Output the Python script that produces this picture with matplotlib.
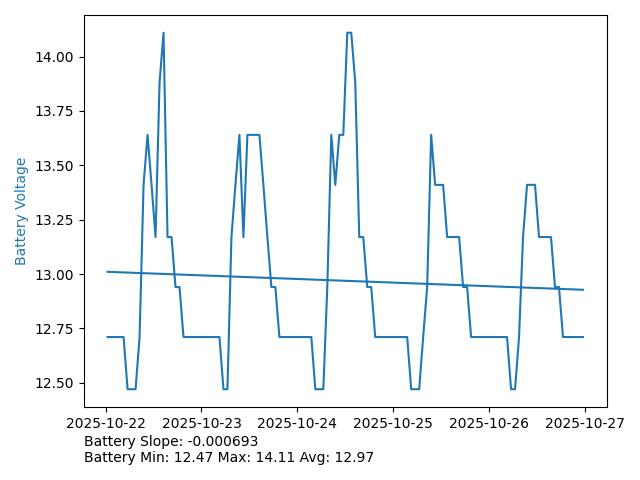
import numpy as np
import pandas as pd
import matplotlib
matplotlib.use('Agg')
import matplotlib.pyplot as plt

# hourly battery readings, first one at 2025-10-22 00:30
start = '2025-10-22 00:30'
voltage = [
	12.71, 12.71, 12.71, 12.71, 12.71, 12.47, 12.47, 12.47, 12.71, 13.41,
	13.64, 13.41, 13.17, 13.88, 14.11, 13.17, 13.17, 12.94, 12.94, 12.71,
	12.71, 12.71, 12.71, 12.71, 12.71, 12.71, 12.71, 12.71, 12.71, 12.47,
	12.47, 13.17, 13.41, 13.64, 13.17, 13.64, 13.64, 13.64, 13.64, 13.41,
	13.17, 12.94, 12.94, 12.71, 12.71, 12.71, 12.71, 12.71, 12.71, 12.71,
	12.71, 12.71, 12.47, 12.47, 12.47, 12.94, 13.64, 13.41, 13.64, 13.64,
	14.11, 14.11, 13.88, 13.17, 13.17, 12.94, 12.94, 12.71, 12.71, 12.71,
	12.71, 12.71, 12.71, 12.71, 12.71, 12.71, 12.47, 12.47, 12.47, 12.71,
	12.94, 13.64, 13.41, 13.41, 13.41, 13.17, 13.17, 13.17, 13.17, 12.94,
	12.94, 12.71, 12.71, 12.71, 12.71, 12.71, 12.71, 12.71, 12.71, 12.71,
	12.71, 12.47, 12.47, 12.71, 13.17, 13.41, 13.41, 13.41, 13.17, 13.17,
	13.17, 13.17, 12.94, 12.94, 12.71, 12.71, 12.71, 12.71, 12.71, 12.71,
]

# summary numbers as printed under the chart
slope = -0.000693
trend_start = 13.01
v_min, v_max, v_avg = 12.47, 14.11, 12.97

times = pd.date_range(start, periods=len(voltage), freq='h')
hours = np.arange(len(voltage))
trend = trend_start + slope * hours

fig = plt.figure(figsize=(6.4, 4.8), dpi=100)
ax = fig.add_subplot(111)
fig.subplots_adjust(left=0.131, right=0.948, top=0.969, bottom=0.152)

ax.plot(times, voltage, color='tab:blue')
ax.plot(times[[0, -1]], trend[[0, -1]], color='tab:blue')
ax.set_ylabel('Battery Voltage', color='tab:blue')

fig.text(0.131, 0.031,
	'Battery Slope: %.6f\nBattery Min: %.2f Max: %.2f Avg: %.2f' % (slope, v_min, v_max, v_avg),
	ha='left', va='bottom')

fig.savefig('out.png', dpi=100)
